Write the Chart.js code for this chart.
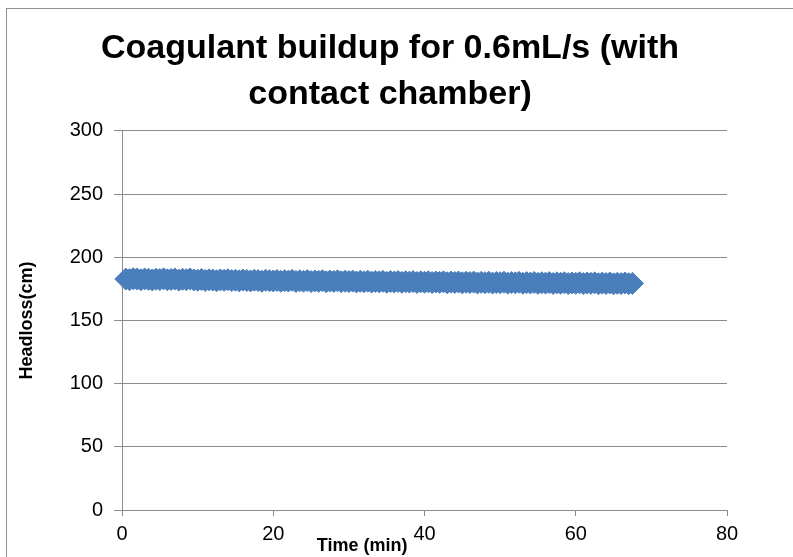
<!DOCTYPE html>
<html>
<head>
<meta charset="utf-8">
<script src="https://cdn.jsdelivr.net/npm/chart.js@4.4.1/dist/chart.umd.min.js"></script>
<style>
  html, body { margin: 0; padding: 0; background: #fff; }
</style>
</head>
<body>
<canvas id="myChart" width="793" height="557"></canvas>
<script>
const chartTitle = ["Coagulant buildup for 0.6mL/s (with", "contact chamber)"];
const xAxisLabel = "Time (min)";
const yAxisLabel = "Headloss(cm)";
const xTicks = [0, 20, 40, 60, 80];
const yTicks = [0, 50, 100, 150, 200, 250, 300];

// readings every half minute
const timeMin = [
  0.5, 1, 1.5, 2, 2.5, 3, 3.5, 4, 4.5, 5, 5.5, 6, 6.5, 7, 7.5, 8, 8.5, 9, 9.5,
  10, 10.5, 11, 11.5, 12, 12.5, 13, 13.5, 14, 14.5, 15, 15.5, 16, 16.5, 17, 17.5, 18, 18.5, 19, 19.5,
  20, 20.5, 21, 21.5, 22, 22.5, 23, 23.5, 24, 24.5, 25, 25.5, 26, 26.5, 27, 27.5, 28, 28.5, 29, 29.5,
  30, 30.5, 31, 31.5, 32, 32.5, 33, 33.5, 34, 34.5, 35, 35.5, 36, 36.5, 37, 37.5, 38, 38.5, 39, 39.5,
  40, 40.5, 41, 41.5, 42, 42.5, 43, 43.5, 44, 44.5, 45, 45.5, 46, 46.5, 47, 47.5, 48, 48.5, 49, 49.5,
  50, 50.5, 51, 51.5, 52, 52.5, 53, 53.5, 54, 54.5, 55, 55.5, 56, 56.5, 57, 57.5, 58, 58.5, 59, 59.5,
  60, 60.5, 61, 61.5, 62, 62.5, 63, 63.5, 64, 64.5, 65, 65.5, 66, 66.5, 67, 67.5
];
const headlossCm = [
  182.7, 182.2, 183.0, 182.7, 182.2, 182.8, 182.5, 182.0, 182.6, 182.3, 182.9, 182.1, 182.4, 182.7, 181.9, 182.5, 182.2, 182.8, 182.0,
  181.8, 182.3, 181.6, 182.1, 181.9, 181.4, 182.0, 181.7, 182.2, 181.5, 181.8, 181.3, 181.9, 181.6, 181.2, 181.8, 181.5, 181.0, 181.7, 181.4,
  181.2, 181.6, 180.9, 181.4, 181.1, 181.7, 180.8, 181.3, 181.0, 181.5, 180.7, 181.2, 180.9, 181.4, 180.6, 181.1, 180.8, 181.3, 180.5, 181.0,
  180.7, 181.1, 180.4, 180.9, 180.6, 181.0, 180.3, 180.8, 180.5, 180.9, 180.2, 180.7, 180.4, 180.8, 180.1, 180.6, 180.3, 180.7, 180.0, 180.5,
  180.2, 180.6, 179.9, 180.4, 180.1, 180.5, 179.8, 180.3, 180.0, 180.4, 179.7, 180.2, 179.9, 180.3, 179.6, 180.1, 179.8, 180.2, 179.5, 180.0,
  179.8, 180.2, 179.5, 180.0, 179.7, 180.1, 179.4, 179.9, 179.6, 180.0, 179.3, 179.8, 179.5, 179.9, 179.2, 179.7, 179.4, 179.8, 179.1, 179.6,
  179.4, 179.8, 179.1, 179.6, 179.3, 179.7, 179.0, 179.5, 179.2, 179.6, 178.9, 179.4, 179.1, 179.6, 179.0, 179.3
];

const points = timeMin.map((t, i) => ({ x: t, y: headlossCm[i] }));

const gridGrey = '#8c8c8c';
const fontFamily = "'Liberation Sans', Arial, sans-serif";

// frame around the chart + x axis title placed left of centre like the original
const extras = {
  id: 'extras',
  beforeDraw(chart) {
    const c = chart.ctx;
    c.save();
    c.strokeStyle = '#8e8e8e';
    c.lineWidth = 1;
    c.strokeRect(6.5, 8.5, 900, 700);
    c.restore();
  },
  afterDraw(chart) {
    const c = chart.ctx;
    const a = chart.chartArea;
    c.save();
    c.fillStyle = '#000';
    c.font = "bold 18px " + fontFamily;
    c.textAlign = 'center';
    c.textBaseline = 'middle';
    c.fillText(xAxisLabel, a.left + (a.right - a.left) * 0.397, 546);
    c.restore();
  }
};

const ctx = document.getElementById("myChart").getContext("2d");

const chart = new Chart(ctx, {
  type: 'scatter',
  data: {
    datasets: [{
      label: 'Headloss',
      data: points,
      backgroundColor: '#4a7ebb',
      borderColor: '#4a7ebb',
      borderWidth: 1,
      pointStyle: 'rectRot',
      pointRadius: 11,
      pointHoverRadius: 11,
      clip: false
    }]
  },
  options: {
    responsive: false,
    animation: false,
    layout: { padding: { left: 12, right: 25, top: 0, bottom: 0 } },
    plugins: {
      legend: { display: false },
      tooltip: { enabled: false },
      title: {
        display: true,
        text: chartTitle,
        color: '#000',
        font: { family: fontFamily, size: 34, weight: 'bold', lineHeight: 1.35 },
        padding: { top: 26, bottom: 13 }
      }
    },
    scales: {
      x: {
        type: 'linear',
        min: 0,
        max: 80,
        afterBuildTicks: (s) => { s.ticks = xTicks.map(v => ({ value: v })); },
        afterFit: (s) => { s.height = 47; },
        grid: { drawOnChartArea: false, drawTicks: true, tickLength: 6, color: gridGrey },
        border: { color: gridGrey, width: 1 },
        ticks: { color: '#000', padding: 6, font: { family: fontFamily, size: 20 } }
      },
      y: {
        min: 0,
        max: 300,
        afterBuildTicks: (s) => { s.ticks = yTicks.map(v => ({ value: v })); },
        afterFit: (s) => { s.width = 110; },
        grid: { color: gridGrey, tickLength: 8 },
        border: { color: gridGrey, width: 1 },
        ticks: { color: '#000', padding: 11, font: { family: fontFamily, size: 20 } },
        title: {
          display: true,
          text: yAxisLabel,
          color: '#000',
          font: { family: fontFamily, size: 18, weight: 'bold' },
          padding: { top: 4, bottom: 4 }
        }
      },
      // empty right-hand strip so the title centres over the whole frame
      yRight: {
        position: 'right',
        min: 0,
        max: 300,
        afterFit: (s) => { s.width = 41; },
        grid: { display: false, drawOnChartArea: false },
        border: { display: false },
        ticks: { display: false }
      }
    }
  },
  plugins: [extras]
});
</script>
</body>
</html>
